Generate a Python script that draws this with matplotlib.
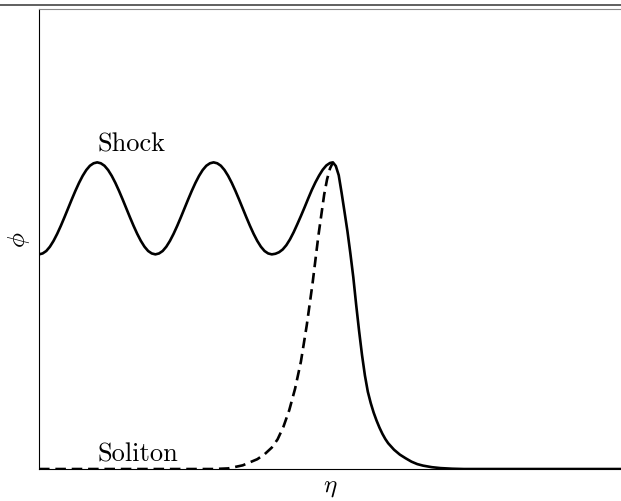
import matplotlib
matplotlib.use("Agg")
import matplotlib.pyplot as plt
from matplotlib.lines import Line2D

plt.rcParams["mathtext.fontset"] = "cm"
plt.rcParams["font.family"] = "serif"
plt.rcParams["font.serif"] = ["cmr10", "DejaVu Serif"]
plt.rcParams["axes.formatter.use_mathtext"] = True

# ── Data ─────────────────────────────────────────────────────────────────────
# one period of the oscillating tail, eta step 0.0625 (min -> max -> min)
period_phi = [0.700, 0.703, 0.711, 0.725, 0.744, 0.767, 0.793, 0.821,
              0.850, 0.879, 0.907, 0.933, 0.956, 0.975, 0.989, 0.997,
              1.000, 0.997, 0.989, 0.975, 0.956, 0.933, 0.907, 0.879,
              0.850, 0.821, 0.793, 0.767, 0.744, 0.725, 0.711, 0.703]

osc_eta = [i * 0.0625 for i in range(64)]  # 0 .. 3.9375

front_eta = [4.0, 4.0625, 4.125, 4.1875, 4.25, 4.3125, 4.375, 4.4375,
             4.5, 4.5625, 4.625, 4.6875, 4.75, 4.8125, 4.875, 4.9375,
             5.0, 5.05, 5.1, 5.15, 5.2, 5.25, 5.3, 5.35, 5.4, 5.45, 5.5,
             5.55, 5.6, 5.65, 5.7, 5.75, 5.8, 5.85, 5.9, 5.95, 6.0, 6.1,
             6.2, 6.3, 6.4, 6.5, 6.6, 6.75, 6.9, 7.1, 7.3, 10.0]
front_phi = [0.700, 0.702, 0.707, 0.716, 0.730, 0.749, 0.772, 0.798,
             0.825, 0.853, 0.882, 0.910, 0.935, 0.957, 0.976, 0.990,
             0.998, 1.000, 0.988, 0.958, 0.900, 0.838, 0.775, 0.703,
             0.626, 0.535, 0.450, 0.372, 0.305, 0.252, 0.215, 0.184,
             0.158, 0.135, 0.115, 0.098, 0.084, 0.063, 0.047, 0.035,
             0.024, 0.016, 0.011, 0.006, 0.003, 0.001, 0.0, 0.0]

shock_eta = osc_eta + front_eta
shock_phi = period_phi + period_phi + front_phi

soliton_eta = [0.0, 3.0, 3.25, 3.5, 3.75, 3.875, 4.0, 4.1, 4.2, 4.3, 4.4,
               4.5, 4.6, 4.7, 4.8, 4.9, 4.95, 5.0, 5.05]
soliton_phi = [0.0, 0.0, 0.002, 0.012, 0.032, 0.048, 0.070, 0.097, 0.138,
               0.192, 0.262, 0.350, 0.468, 0.605, 0.760, 0.895, 0.945,
               0.980, 1.000]

# ── Plot ──────────────────────────────────────────────────────────────────────
fig = plt.figure(figsize=(6.21, 5.02), dpi=100)
ax = fig.add_axes([0.0628, 0.0637, 0.9372, 0.9163])

ax.plot(soliton_eta, soliton_phi, color="black", lw=1.9, ls=(0, (4.0, 2.2)))
ax.plot(shock_eta, shock_phi, color="black", lw=1.9)

ax.text(1.0, 1.06, "Shock", fontsize=19, va="center", ha="left")
ax.text(1.0, 0.05, "Soliton", fontsize=19, va="center", ha="left")

ax.set_xlim(0, 10)
ax.set_ylim(0, 1.5)
ax.set_xticks([])
ax.set_yticks([])
ax.spines["right"].set_visible(False)
ax.spines["top"].set_color("#888888")
ax.set_xlabel(r"$\eta$", fontsize=18, labelpad=5)
ax.set_ylabel(r"$\phi$", fontsize=18, labelpad=5)

fig.add_artist(Line2D([0, 1], [0.988, 0.988], transform=fig.transFigure,
                      color="#444444", lw=1.2))

fig.savefig("out.png", dpi=100)
